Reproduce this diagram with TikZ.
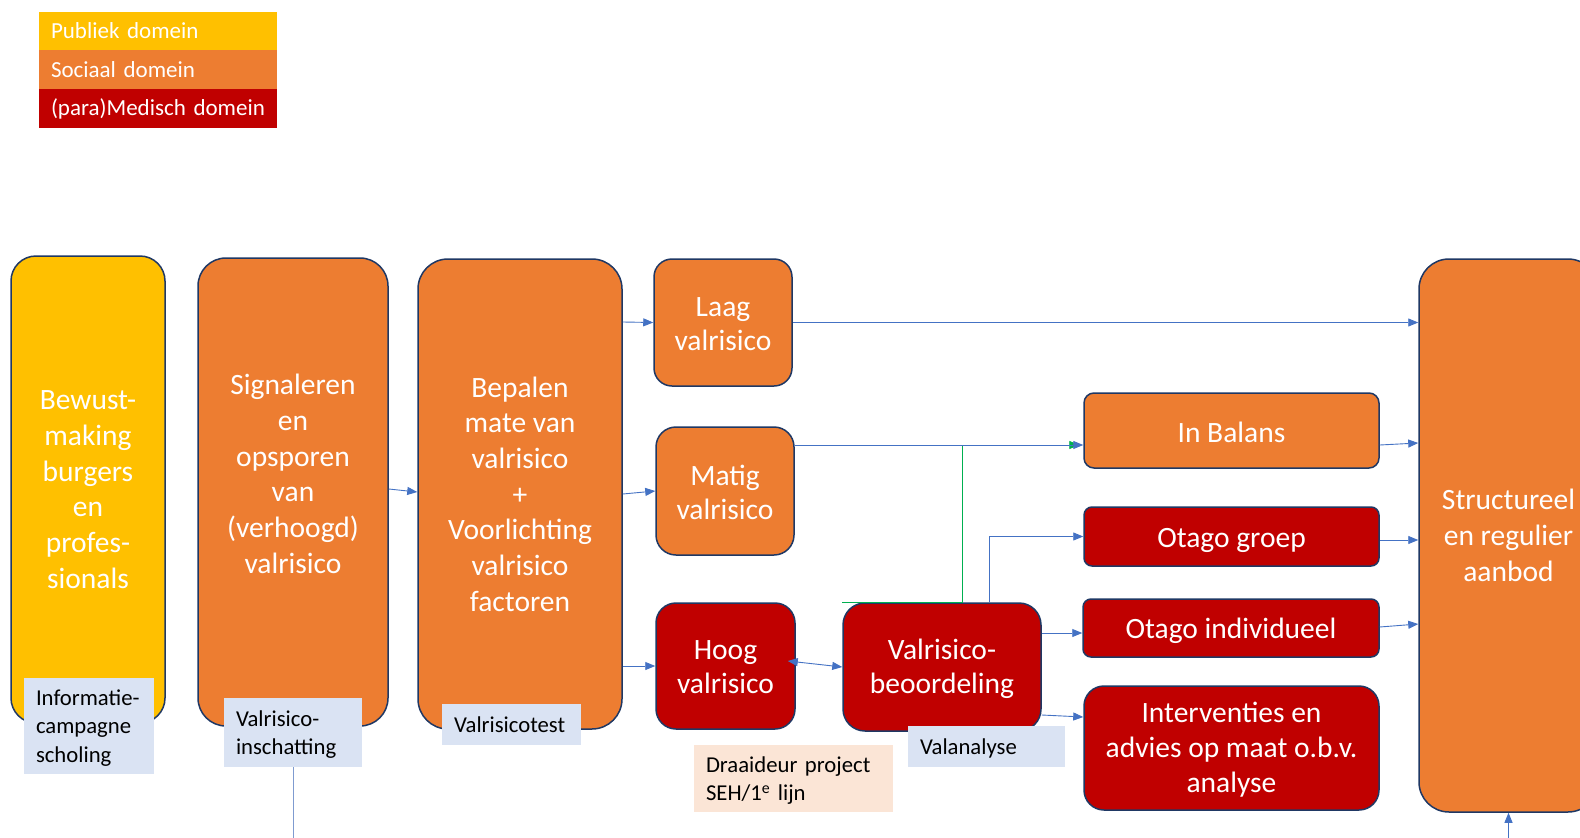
\documentclass[tikz,border=0pt]{standalone}
\usepackage{fontspec}
\setmainfont{Carlito}
\usetikzlibrary{arrows.meta}
\definecolor{pyel}{HTML}{FFC000}
\definecolor{sor}{HTML}{ED7D31}
\definecolor{mred}{HTML}{C00000}
\definecolor{bord}{HTML}{1F3864}
\definecolor{lblue}{HTML}{DAE3F3}
\definecolor{peach}{HTML}{FBE5D6}
\definecolor{cblue}{HTML}{4472C4}
\definecolor{lline}{HTML}{7F9BD0}
\definecolor{cgreen}{HTML}{00B050}
\begin{document}
\begin{tikzpicture}[x=1pt,y=-1pt,
 box/.style={draw=bord, line width=1.5pt, rectangle, text=white, align=center, inner sep=0pt, font=\fontsize{29.5}{35.7}\selectfont},
 smallbox/.style={box, font=\fontsize{29.5}{34}\selectfont},
 txt/.style={rectangle, inner sep=0pt, text=white, align=center, font=\fontsize{29.5}{35}\selectfont},
 legendrow/.style={rectangle, inner xsep=12pt, inner ysep=0pt, text width=214pt, align=left, text=white, font=\fontsize{23}{28}\selectfont},
 labbox/.style={rectangle, fill=lblue, inner sep=0pt},
 labtxt/.style={rectangle, inner sep=0pt, align=left, text=black, font=\fontsize{22.7}{28.2}\selectfont},
 conn/.style={draw=cblue, line width=0.9pt},
 arr/.style={conn, -{Triangle[length=10pt,width=8pt]}},
 garr/.style={draw=cgreen, line width=0.9pt, -{Triangle[length=10pt,width=8pt]}},
]
\path[fill=white] (0,0) rectangle (1580,838);
\useasboundingbox (0,0) rectangle (1580,838);

% legend
\node[legendrow, fill=pyel, minimum height=38.5pt] (lp) at (158,30.75) {Publiek domein};
\node[legendrow, fill=sor, minimum height=39.5pt] (ls) at (158,69.5) {Sociaal domein};
\node[legendrow, fill=mred, minimum height=39pt] (lm) at (158,108.5) {(para)Medisch domein};

% main boxes
\node[box, fill=pyel, rounded corners=25pt, minimum width=154pt, minimum height=467pt] (b1) at (88,489.5) {Bewust-\\making\\burgers\\en\\profes-\\sionals};
\node[box, fill=sor, rounded corners=28pt, minimum width=190pt, minimum height=468pt] (b2) at (293,492) {};
\node[txt, font=\fontsize{29.5}{35.7}\selectfont] (b2t) at (293,474) {Signaleren\\en\\opsporen\\van\\(verhoogd)\\valrisico};
\node[box, fill=sor, rounded corners=30pt, minimum width=204pt, minimum height=470pt] (b3) at (520,494) {Bepalen\\mate van\\valrisico\\+\\Voorlichting\\valrisico\\factoren};
\node[smallbox, fill=sor, rounded corners=18pt, minimum width=138pt, minimum height=127pt] (laag) at (723,322.5) {};
\node[txt, font=\fontsize{29.5}{34}\selectfont] (laagt) at (723,324) {Laag\\valrisico};
\node[smallbox, fill=sor, rounded corners=20pt, minimum width=138pt, minimum height=128pt] (matig) at (725,491) {};
\node[txt, font=\fontsize{29.5}{34}\selectfont] (matigt) at (725,492) {Matig\\valrisico};
\node[smallbox, fill=mred, rounded corners=20pt, minimum width=139pt, minimum height=126pt] (hoog) at (725.5,666) {};
\node[txt, font=\fontsize{29.5}{34}\selectfont] (hoogt) at (725.5,667) {Hoog\\valrisico};
\node[smallbox, fill=mred, rounded corners=22pt, minimum width=198pt, minimum height=128pt] (beo) at (942,667) {};
\node[txt, font=\fontsize{29.5}{34}\selectfont] (beot) at (942,668.5) {Valrisico-\\beoordeling};
\node[box, fill=sor, rounded corners=10pt, minimum width=295pt, minimum height=75pt] (bal) at (1231.5,430.5) {};
\node[txt] (balt) at (1231.5,432) {In Balans};
\node[box, fill=mred, rounded corners=8pt, minimum width=295pt, minimum height=59pt] (groep) at (1231.5,536.5) {};
\node[txt] (groept) at (1231.5,540.5) {Otago groep};
\node[box, fill=mred, rounded corners=8pt, minimum width=296pt, minimum height=58pt] (ind) at (1231,628) {};
\node[txt] (indt) at (1231,631) {Otago individueel};
\node[box, fill=mred, rounded corners=20pt, minimum width=295pt, minimum height=124pt] (int) at (1231.5,748) {};
\node[txt] (intt) at (1231.5,749.5) {Interventies en\\advies op maat o.b.v.\\analyse};
\node[box, fill=sor, rounded corners=30pt, minimum width=179pt, minimum height=553pt] (str) at (1508.5,535.5) {Structureel\\en regulier\\aanbod};

% connectors
\draw[arr] ([yshift=3pt]b2.east) -- ([yshift=2pt]b3.west);
\draw[arr] ([yshift=172pt]b3.east) -- (laag.west);
\draw[arr] (b3.east) -- (matig.west);
\draw[arr] ([yshift=-172pt]b3.east) -- (hoog.west);
\draw[arr] (laag.east) -- (laag.east -| str.west);
\draw[garr] (beo.north west) -- ([xshift=20pt]beo.north) |- ([yshift=-14.5pt,xshift=-4pt]bal.west);
\draw[arr] ([yshift=46pt]matig.east) -- ([yshift=-14.5pt]bal.west);
\draw[arr] ([xshift=47pt]beo.north) |- (groep.west);
\draw[arr] ([yshift=34pt]beo.east) -- ([yshift=-5pt]ind.west);
\draw[arr] ([yshift=-48pt]beo.east) -- ([yshift=31pt]int.west);
\draw[conn, {Triangle[length=10pt,width=8pt]}-{Triangle[length=10pt,width=8pt]}] ([xshift=-8pt,yshift=5pt]hoog.east) -- (beo.west);
\draw[arr] ([yshift=-14.5pt]bal.east) -- ([yshift=92.5pt]str.west);
\draw[arr] ([yshift=-3.5pt]groep.east) -- ([yshift=-4.5pt]str.west);
\draw[arr] ([yshift=1pt]ind.east) -- ([yshift=-88.5pt]str.west);
\coordinate (botS) at (1508.5,838);
\draw[arr] (botS) -- (str.south);

% labels
\node[labbox, minimum width=130pt, minimum height=96pt] (lInfo) at (89,726) {};
\node[labtxt, text width=106pt] (lInfoT) at (89,728) {Informatie-\\campagne\\scholing};
\node[labbox, minimum width=138pt, minimum height=69pt] (lInsch) at (293,732.5) {};
\node[labtxt, text width=114pt] (lInschT) at (293,734.5) {Valrisico-\\inschatting};
\node[labbox, minimum width=139pt, minimum height=41pt] (lTest) at (511.5,724.5) {};
\node[labtxt, text width=115pt] (lTestT) at (511.5,724.5) {Valrisicotest};
\node[labbox, minimum width=157pt, minimum height=41pt] (lVal) at (986.5,746.5) {};
\node[labtxt, text width=133pt] (lValT) at (986.5,748.5) {Valanalyse};
\node[labbox, fill=peach, minimum width=199pt, minimum height=67pt] (lDraai) at (793.5,778.5) {};
\node[labtxt, text width=175pt] (lDraaiT) at (793.5,780.5) {Draaideur project\\SEH/1\textsuperscript{e} lijn};
\coordinate (botI) at (293,838);
\draw[draw=lline, line width=0.9pt] (lInsch.south) -- (botI);
\end{tikzpicture}
\end{document}
